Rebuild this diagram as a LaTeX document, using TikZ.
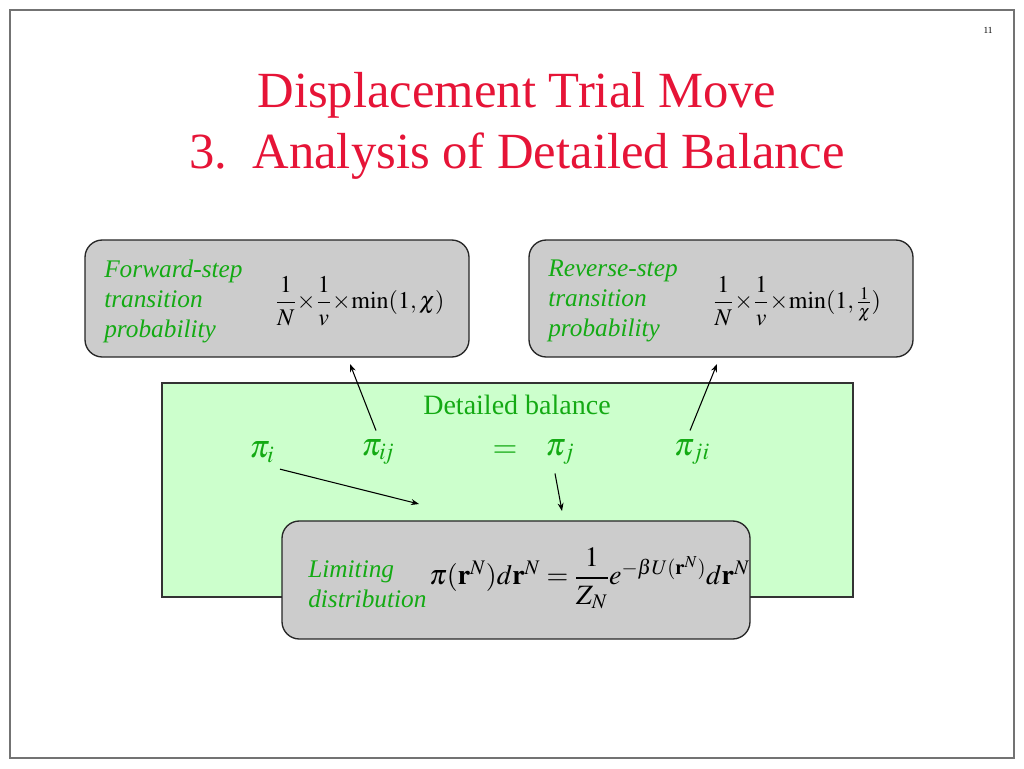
\documentclass[tikz,border=0pt]{standalone}
\usepackage{amsmath}
\usepackage{mathptmx}
\usepackage[no-math]{fontspec}
\setmainfont{Liberation Serif}
\usetikzlibrary{arrows.meta}
\definecolor{titlered}{RGB}{230,20,55}
\definecolor{txtgreen}{RGB}{20,170,20}
\definecolor{boxgray}{RGB}{204,204,204}
\definecolor{palegreen}{RGB}{204,255,204}
\begin{document}
\begin{tikzpicture}[x=0.75pt,y=-0.75pt,
  probbox/.style={draw=black!85,line width=1pt,fill=boxgray,rounded corners=13pt},
  greenlbl/.style={text=txtgreen,font=\fontsize{19}{22.5}\selectfont\itshape,align=left,anchor=west,inner sep=0pt},
  formula/.style={font=\fontsize{18}{20}\selectfont,anchor=center},
  pisym/.style={text=txtgreen,font=\fontsize{24}{28}\selectfont,anchor=center},
  conn/.style={-{Stealth[length=6pt,width=4.5pt]},line width=0.8pt}]
\useasboundingbox (0,0) rectangle (1024,768);
\fill[white] (0,0) rectangle (1024,768);
\draw[line width=2pt,draw=black!55] (10,10) rectangle (1014,758);
\node[font=\fontsize{7}{8}\selectfont] (pg) at (988,30) {11};
\node[text=titlered,font=\fontsize{38}{46}\selectfont,align=center] (title) at (517,126)
  {Displacement Trial Move\\3.\ \ Analysis of Detailed Balance};
% top boxes
\draw[probbox] (85,240) rectangle (469,357);
\draw[probbox] (529,240) rectangle (913,357);
\node[greenlbl] (fwdlbl) at (104,301) {Forward-step\\transition\\probability};
\node[formula] (fwdf) at (360,301) {$\dfrac{1}{N}\!\times\!\dfrac{1}{v}\!\times\!\min(1,\chi)$};
\node[greenlbl] (revlbl) at (548,301) {Reverse-step\\transition\\probability};
\node[formula] (revf) at (797,301) {$\dfrac{1}{N}\!\times\!\dfrac{1}{v}\!\times\!\min(1,\tfrac{1}{\chi})$};
% green area
\draw[line width=1pt,draw=black!80,fill=palegreen] (162,383) rectangle (853,597);
\node[text=txtgreen,font=\fontsize{21}{24}\selectfont] (db) at (517,405) {Detailed balance};
\node[pisym] (pii) at (262,452) {$\pi_i$};
\node[pisym] (piij) at (378,452) {$\pi_{i\!j}$};
\node[pisym] (eq) at (505,452) {$=$};
\node[pisym] (pij) at (560,452) {$\pi_j$};
\node[pisym] (piji) at (692,452) {$\pi_{ji}$};
% bottom box
\draw[probbox] (282,521) rectangle (750,639);
\node[greenlbl] (limlbl) at (308,584) {Limiting\\distribution};
\node[formula,font=\fontsize{21}{24}\selectfont,anchor=west,inner sep=0pt] (limf) at (429,578)
  {$\pi(\mathbf{r}^N)d\mathbf{r}^N=\dfrac{1}{Z_N}e^{-\beta U(\mathbf{r}^N)}d\mathbf{r}^N$};
% connectors
\coordinate (fwdtip) at (350,364);
\coordinate (revtip) at (717,364);
\coordinate (limtipA) at (419,504);
\coordinate (limtipB) at (562,511);
\draw[conn] (piij.north) ++(-2,-4) -- (fwdtip);
\draw[conn] (piji.north) ++(-2,-4) -- (revtip);
\draw[conn] (pii.south) ++(18,2) -- (limtipA);
\draw[conn] (pij.south) ++(-5,4) -- (limtipB);
\end{tikzpicture}
\end{document}
